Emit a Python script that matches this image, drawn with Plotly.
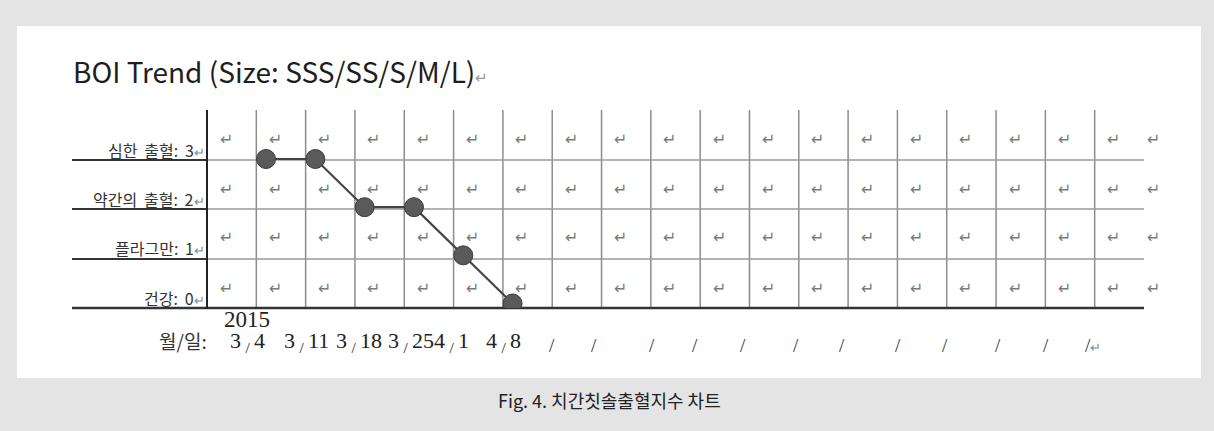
import plotly.graph_objects as go

# ---------------- data ----------------
dates = ["3/4", "3/11", "3/18", "3/25", "4/1", "4/8"]
boi_values = [3, 3, 2, 2, 1, 0]
year_label = "2015"
level_labels = ["건강: 0", "플라그만: 1", "약간의 출혈: 2", "심한 출혈: 3"]   # levels 0..3
blank_date_labels = ["/", "/", "/", "/", "/", "/", "/", "/", "/", "/", "/", "/"]
axis_caption = "월/일:"
title_text = "BOI Trend (Size: SSS/SS/S/M/L)"
fig_caption = "Fig. 4. 치간칫솔출혈지수 차트"

# ---------------- layout constants (pixels) ----------------
W, H = 1214, 431
PANEL = (17, 26, 1201, 378)
TABLE_L, TABLE_R = 207, 1144
TABLE_T, TABLE_B = 110, 308
N_COLS = 19
COL_W = (TABLE_R - TABLE_L) / N_COLS
ROW_TOPS = [110, 160, 209, 259]
ROW_LINES = [160, 209, 259]
LEFT_L = 72
FIRST_PT_PX = 266
Y0_PX, Y3_PX = 303.5, 159
date_label_px = [247, 306, 359, 411, 451, 503]
blank_label_px = [552, 594, 652, 695, 743, 796, 842, 898, 945, 998, 1046, 1086]

GREY_BG = "#e4e4e4"
RET = "↵"


def px(x):
    return x / W


def py(y):
    return 1 - y / H


x_unit = COL_W
x_range = [(TABLE_L - FIRST_PT_PX) / x_unit, (TABLE_R - FIRST_PT_PX) / x_unit]
y_unit = (Y0_PX - Y3_PX) / 3
y_range = [-(TABLE_B - Y0_PX) / y_unit, 3 + (Y3_PX - TABLE_T) / y_unit]

fig = go.Figure()
fig.add_trace(go.Scatter(
    x=dates, y=boi_values, mode="lines+markers",
    line=dict(color="#454545", width=2.2),
    marker=dict(size=19, color="#5a5a5a", line=dict(color="#3a3a3a", width=1)),
    hoverinfo="x+y", showlegend=False,
))

shapes = []
# white panel
shapes.append(dict(type="rect", xref="paper", yref="paper",
                   x0=px(PANEL[0]), x1=px(PANEL[2]), y0=py(PANEL[3]), y1=py(PANEL[1]),
                   fillcolor="white", line=dict(width=0), layer="below"))
# vertical grid lines
for k in range(1, N_COLS):
    xx = TABLE_L + k * COL_W
    shapes.append(dict(type="line", xref="paper", yref="paper",
                       x0=px(xx), x1=px(xx), y0=py(TABLE_T), y1=py(TABLE_B),
                       line=dict(color="#8c8c8c", width=1.5), layer="below"))
# horizontal table lines
for yy in ROW_LINES:
    shapes.append(dict(type="line", xref="paper", yref="paper",
                       x0=px(TABLE_L), x1=px(TABLE_R), y0=py(yy), y1=py(yy),
                       line=dict(color="#9a9a9a", width=1.5), layer="below"))
    shapes.append(dict(type="line", xref="paper", yref="paper",
                       x0=px(LEFT_L), x1=px(TABLE_L), y0=py(yy), y1=py(yy),
                       line=dict(color="#333333", width=2), layer="below"))
# bottom axis line
shapes.append(dict(type="line", xref="paper", yref="paper",
                   x0=px(LEFT_L), x1=px(TABLE_R), y0=py(TABLE_B), y1=py(TABLE_B),
                   line=dict(color="#333333", width=2.5), layer="below"))
# left axis line
shapes.append(dict(type="line", xref="paper", yref="paper",
                   x0=px(TABLE_L), x1=px(TABLE_L), y0=py(TABLE_T), y1=py(TABLE_B + 1),
                   line=dict(color="#222222", width=2), layer="below"))

ann = []
SANS = "Noto Sans CJK KR"
SERIF = "Liberation Serif"
# title
ann.append(dict(x=px(71), y=py(71), xref="paper", yref="paper", xanchor="left", yanchor="middle",
                text=title_text + f"<span style='font-size:15px;color:#999'>{RET}</span>",
                showarrow=False, font=dict(family=SANS, size=28, color="#1e1e1e")))
# level labels
for lvl, lab in enumerate(level_labels):
    yc = [298, 248, 199, 150][lvl]
    ann.append(dict(x=px(207), y=py(yc), xref="paper", yref="paper", xanchor="right", yanchor="middle",
                    text=lab.replace(" ", "\u00a0\u2009") + f"<span style='font-size:13px;color:#888'>{RET}</span>",
                    showarrow=False, font=dict(family=SANS, size=16, color="#333333")))
# cell return marks
for c in range(N_COLS + 1):
    xx = TABLE_L + c * COL_W + 19 if c < N_COLS else 1153
    for rt in ROW_TOPS:
        ann.append(dict(x=px(xx), y=py(rt + 29), xref="paper", yref="paper",
                        xanchor="center", yanchor="middle", text=RET, showarrow=False,
                        font=dict(family="DejaVu Sans", size=16, color="#7a7a7a")))
# x labels
ann.append(dict(x=px(183), y=py(340), xref="paper", yref="paper", xanchor="center", yanchor="middle",
                text=axis_caption, showarrow=False, font=dict(family=SANS, size=19, color="#333333")))
ann.append(dict(x=px(247), y=py(319), xref="paper", yref="paper", xanchor="center", yanchor="middle",
                text=year_label, showarrow=False, font=dict(family=SERIF, size=23, color="#222222")))
for lab, xx in zip(dates, date_label_px):
    m, d = lab.split("/")
    ann.append(dict(x=px(xx), y=py(342), xref="paper", yref="paper", xanchor="center", yanchor="middle",
                    text=f"{m}\u2009<sub>/</sub>\u2009{d}", showarrow=False,
                    font=dict(family=SERIF, size=22, color="#222222")))
for i, (lab, xx) in enumerate(zip(blank_date_labels, blank_label_px)):
    last = i == len(blank_date_labels) - 1
    t = lab + (f"<span style='font-size:13px;color:#888'>{RET}</span>" if last else "")
    ann.append(dict(x=px(xx - 3 if last else xx), y=py(345), xref="paper", yref="paper",
                    xanchor="left" if last else "center",
                    yanchor="middle", text=t, showarrow=False,
                    font=dict(family=SERIF, size=19, color="#333333")))
# caption
ann.append(dict(x=px(609), y=py(400), xref="paper", yref="paper", xanchor="center", yanchor="middle",
                text=fig_caption, showarrow=False, font=dict(family=SANS, size=18, color="#222222")))

fig.update_layout(
    width=W, height=H, margin=dict(l=0, r=0, t=0, b=0),
    paper_bgcolor=GREY_BG, plot_bgcolor="rgba(0,0,0,0)",
    shapes=shapes, annotations=ann, showlegend=False,
    xaxis=dict(type="category", categoryorder="array", categoryarray=dates,
               domain=[px(TABLE_L), px(TABLE_R)], range=x_range,
               showgrid=False, zeroline=False, showline=False, showticklabels=False, ticks=""),
    yaxis=dict(domain=[py(TABLE_B), py(TABLE_T)], range=y_range,
               showgrid=False, zeroline=False, showline=False, showticklabels=False, ticks=""),
)

fig.write_html(
    "out.html",
    config={"displayModeBar": False},
    post_script="document.body.style.margin='0';document.body.style.background='" + GREY_BG + "';",
)
